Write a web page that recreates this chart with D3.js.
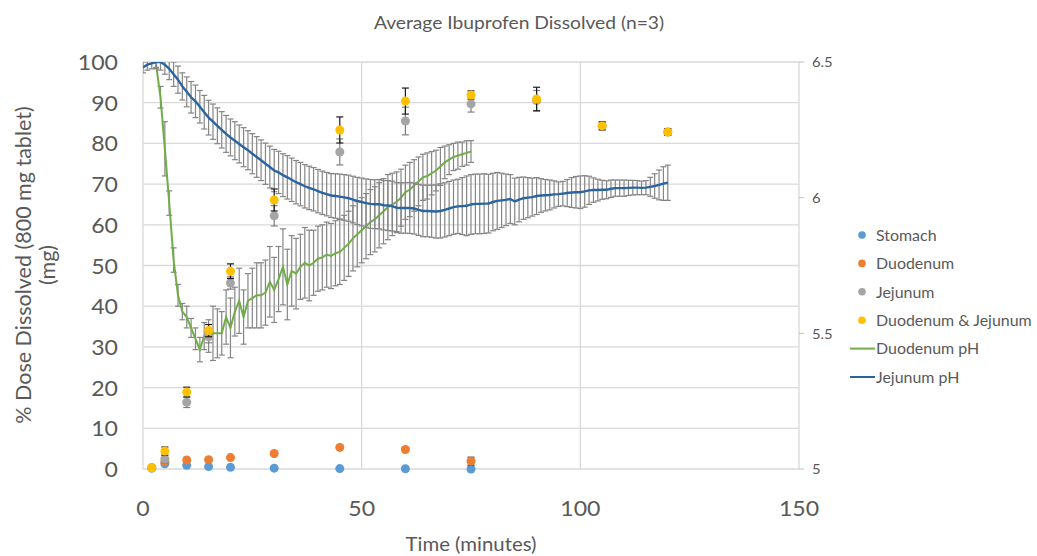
<!DOCTYPE html>
<html>

<head>
    <meta charset="UTF-8">
    <title>Average Ibuprofen Dissolved</title>
    <script src="https://cdn.jsdelivr.net/npm/d3@7/dist/d3.min.js"></script>
    <style>
        body {
            margin: 0;
            background-color: #ffffff;
        }
        svg text {
            font-family: Lato, "Open Sans", sans-serif;
            fill: #595959;
        }
    </style>
</head>

<body>
    <div id="chart"></div>
    <script>
        // sampling times (minutes) for the dissolution data
        var sampleTimes = [2, 5, 10, 15, 20, 30, 45, 60, 75, 90, 105, 120];

        // % dose dissolved, mean and sd (stomach / duodenum stop at 75 min)
        var stomach = [0.2, 1.3, 0.9, 0.6, 0.4, 0.2, 0.1, 0.05, 0.0];
        var stomachSd = [0.1, 0.2, 0.1, 0.1, 0.1, 0.1, 0.1, 0.1, 0.1];
        var duodenum = [0.3, 1.8, 2.2, 2.3, 2.8, 3.8, 5.3, 4.8, 1.9];
        var duodenumSd = [0.1, 0.3, 0.3, 0.3, 0.3, 0.3, 0.3, 0.4, 1.0];
        var jejunum = [0.3, 2.5, 16.4, 32.5, 45.7, 62.2, 77.9, 85.5, 89.7, 90.5, 84.3, 82.8];
        var jejunumSd = [0.2, 1.0, 1.3, 1.5, 1.5, 2.5, 3.2, 3.4, 2.0, 2.5, 0.8, 0.8];
        var duoJej = [0.3, 4.4, 18.9, 34.0, 48.6, 66.1, 83.3, 90.4, 91.9, 90.9, 84.3, 82.8];
        var duoJejSd = [0.2, 1.0, 1.2, 1.5, 1.8, 2.7, 3.2, 3.2, 1.0, 2.9, 1.0, 0.8];

        // duodenum pH, one reading per minute from minute 3 to 75
        var duoPhStart = 3;
        var duoPh = [6.49, 6.37, 6.18, 5.98, 5.77, 5.64, 5.58, 5.56, 5.52, 5.48,
            5.44, 5.49, 5.49, 5.50, 5.50, 5.50, 5.56, 5.52, 5.58, 5.62,
            5.56, 5.62, 5.63, 5.64, 5.64, 5.65, 5.69, 5.66, 5.70, 5.745,
            5.68, 5.73, 5.72, 5.745, 5.76, 5.75, 5.76, 5.775, 5.78, 5.79,
            5.785, 5.795, 5.80, 5.815, 5.83, 5.85, 5.865, 5.88, 5.895, 5.91,
            5.92, 5.935, 5.95, 5.965, 5.975, 5.985, 6.00, 6.02, 6.03, 6.045,
            6.06, 6.075, 6.08, 6.09, 6.10, 6.115, 6.13, 6.14, 6.15, 6.155,
            6.16, 6.165, 6.17];
        var duoPhSd = [0.01, 0.04, 0.10, 0.045, 0.045, 0.04, 0.03, 0.04, 0.035, 0.04,
            0.045, 0.05, 0.06, 0.10, 0.09, 0.08, 0.10, 0.11, 0.09, 0.12,
            0.10, 0.10, 0.11, 0.12, 0.12, 0.12, 0.13, 0.12, 0.12, 0.14,
            0.13, 0.13, 0.13, 0.12, 0.13, 0.13, 0.12, 0.12, 0.12, 0.12,
            0.12, 0.12, 0.12, 0.12, 0.12, 0.12, 0.12, 0.12, 0.12, 0.12,
            0.12, 0.12, 0.12, 0.12, 0.115, 0.11, 0.105, 0.10, 0.10, 0.095,
            0.09, 0.085, 0.085, 0.08, 0.075, 0.07, 0.06, 0.055, 0.05, 0.05,
            0.045, 0.045, 0.04];

        // jejunum pH, one reading per minute from minute 0 to 120
        var jejPhStart = 0;
        var jejPh = [6.48, 6.49, 6.495, 6.50, 6.50, 6.49, 6.475, 6.455, 6.435, 6.41,
            6.39, 6.37, 6.355, 6.335, 6.315, 6.295, 6.28, 6.265, 6.25, 6.235,
            6.222, 6.21, 6.198, 6.186, 6.175, 6.162, 6.15, 6.138, 6.125, 6.113,
            6.10, 6.093, 6.083, 6.075, 6.066, 6.057, 6.05, 6.042, 6.036, 6.031,
            6.024, 6.018, 6.013, 6.008, 6.006, 6.004, 6.001, 5.998, 5.993, 5.988,
            5.984, 5.98, 5.977, 5.976, 5.976, 5.972, 5.971, 5.969, 5.963, 5.962,
            5.962, 5.962, 5.96, 5.955, 5.951, 5.951, 5.95, 5.949, 5.951, 5.955,
            5.96, 5.965, 5.968, 5.969, 5.97, 5.975, 5.977, 5.977, 5.978, 5.978,
            5.984, 5.988, 5.99, 5.992, 5.995, 5.986, 5.993, 5.998, 6.0, 6.002,
            6.006, 6.008, 6.009, 6.01, 6.012, 6.013, 6.015, 6.017, 6.019, 6.02,
            6.02, 6.023, 6.027, 6.028, 6.028, 6.029, 6.029, 6.033, 6.035, 6.035,
            6.035, 6.036, 6.037, 6.037, 6.036, 6.037, 6.04, 6.043, 6.047, 6.052,
            6.055];
        var jejPhSd = [0.02, 0.02, 0.02, 0.025, 0.03, 0.035, 0.04, 0.045, 0.05, 0.05,
            0.055, 0.058, 0.06, 0.06, 0.062, 0.064, 0.065, 0.066, 0.067, 0.068,
            0.068, 0.07, 0.07, 0.072, 0.072, 0.074, 0.075, 0.075, 0.076, 0.077,
            0.078, 0.078, 0.079, 0.08, 0.08, 0.08, 0.08, 0.08, 0.08, 0.08,
            0.08, 0.08, 0.08, 0.081, 0.082, 0.083, 0.084, 0.085, 0.086, 0.087,
            0.088, 0.089, 0.09, 0.09, 0.091, 0.091, 0.092, 0.092, 0.092, 0.093,
            0.093, 0.094, 0.094, 0.094, 0.095, 0.095, 0.096, 0.098, 0.10, 0.10,
            0.10, 0.10, 0.10, 0.105, 0.11, 0.11, 0.11, 0.11, 0.11, 0.108,
            0.106, 0.105, 0.10, 0.095, 0.09, 0.086, 0.082, 0.078, 0.074, 0.07,
            0.068, 0.062, 0.058, 0.055, 0.05, 0.045, 0.045, 0.05, 0.055, 0.058,
            0.06, 0.058, 0.052, 0.045, 0.04, 0.035, 0.033, 0.032, 0.03, 0.03,
            0.03, 0.028, 0.027, 0.026, 0.025, 0.026, 0.035, 0.045, 0.055, 0.062,
            0.065];

        // axis ticks
        var xTicks = [0, 50, 100, 150];
        var yTicks = [0, 10, 20, 30, 40, 50, 60, 70, 80, 90, 100];
        var y2Ticks = [5, 5.5, 6, 6.5];

        (function(d3) {

            var width = 1037;
            var height = 556;
            var margin = { left: 143, right: 238, top: 62, bottom: 87 };
            var stretch = 1.1;

            var svg = d3.select('#chart')
                .append('svg')
                    .attr('width', width)
                    .attr('height', height);

            var x = d3.scaleLinear().domain([0, 150]).range([margin.left, width - margin.right]);
            var y = d3.scaleLinear().domain([0, 100]).range([height - margin.bottom, margin.top]);
            var y2 = d3.scaleLinear().domain([5, 6.5]).range([height - margin.bottom, margin.top]);

            // plot area clip, marks do not spill over the frame
            svg.append('clipPath')
                .attr('id', 'plot-clip')
                .append('rect')
                    .attr('x', x(0))
                    .attr('y', y(100))
                    .attr('width', x(150) - x(0))
                    .attr('height', y(0) - y(100));

            // text with a small horizontal stretch, like the original picture
            function addText(parent, px, py, str, size, anchor) {
                return parent.append('text')
                    .attr('transform', 'translate(' + px + ',' + py + ') scale(' + stretch + ',1)')
                    .attr('text-anchor', anchor || 'start')
                    .attr('dominant-baseline', 'central')
                    .style('font-size', size + 'px')
                    .text(str);
            }

            // grid
            var grid = svg.append('g');
            grid.selectAll('.hgrid')
                .data(yTicks)
                .enter()
                .append('line')
                .attr('x1', x(0))
                .attr('x2', x(150))
                .attr('y1', function(d) { return y(d); })
                .attr('y2', function(d) { return y(d); })
                .attr('stroke', '#d9d9d9')
                .attr('stroke-width', 1.3);
            grid.selectAll('.vgrid')
                .data(xTicks)
                .enter()
                .append('line')
                .attr('x1', function(d) { return x(d); })
                .attr('x2', function(d) { return x(d); })
                .attr('y1', y(0))
                .attr('y2', y(100))
                .attr('stroke', '#d9d9d9')
                .attr('stroke-width', 1.3);

            // right axis tick marks
            svg.selectAll('.y2tick')
                .data(y2Ticks)
                .enter()
                .append('line')
                .attr('x1', x(150))
                .attr('x2', x(150) + 5)
                .attr('y1', function(d) { return y2(d); })
                .attr('y2', function(d) { return y2(d); })
                .attr('stroke', '#bfbfbf');

            // tick labels
            yTicks.forEach(function(d) {
                addText(svg, 118, y(d), d, 21, 'end');
            });
            xTicks.forEach(function(d) {
                addText(svg, x(d), 508, d, 21, 'middle');
            });
            y2Ticks.forEach(function(d) {
                addText(svg, 812, y2(d), d, 13.5, 'start');
            });

            // titles
            addText(svg, 519, 22, 'Average Ibuprofen Dissolved (n=3)', 17.5, 'middle');
            addText(svg, 471, 544, 'Time (minutes)', 18.5, 'middle');
            var yTitle = svg.append('text')
                .attr('transform', 'translate(31,265) rotate(-90)')
                .attr('text-anchor', 'middle')
                .style('font-size', '21.5px');
            yTitle.append('tspan')
                .attr('x', 0)
                .attr('dy', 0)
                .text('% Dose Dissolved (800 mg tablet)');
            yTitle.append('tspan')
                .attr('x', 0)
                .attr('dy', 24)
                .text('(mg)');

            var plot = svg.append('g').attr('clip-path', 'url(#plot-clip)');

            function errorBars(parent, times, vals, sds, scale, color, cap) {
                var g = parent.append('g')
                    .attr('stroke', color)
                    .attr('stroke-width', 1.2);
                vals.forEach(function(v, i) {
                    var cx = x(times[i]);
                    var top = scale(v + sds[i]);
                    var bot = scale(v - sds[i]);
                    g.append('line').attr('x1', cx).attr('x2', cx).attr('y1', top).attr('y2', bot);
                    g.append('line').attr('x1', cx - cap).attr('x2', cx + cap).attr('y1', top).attr('y2', top);
                    g.append('line').attr('x1', cx - cap).attr('x2', cx + cap).attr('y1', bot).attr('y2', bot);
                });
            }

            function minutes(start, vals) {
                return vals.map(function(v, i) { return start + i; });
            }

            // pH lines with their error bars (secondary axis)
            var duoTimes = minutes(duoPhStart, duoPh);
            var jejTimes = minutes(jejPhStart, jejPh);

            var line = d3.line()
                .x(function(d) { return x(d[0]); })
                .y(function(d) { return y2(d[1]); });

            errorBars(plot, duoTimes, duoPh, duoPhSd, y2, '#858585', 3);
            plot.append('path')
                .datum(d3.zip(duoTimes, duoPh))
                .attr('d', line)
                .attr('fill', 'none')
                .attr('stroke', '#70ad47')
                .attr('stroke-width', 2);

            errorBars(plot, jejTimes, jejPh, jejPhSd, y2, '#858585', 3);
            plot.append('path')
                .datum(d3.zip(jejTimes, jejPh))
                .attr('d', line)
                .attr('fill', 'none')
                .attr('stroke', '#2b64a0')
                .attr('stroke-width', 2.4);

            // dissolution scatter series
            var series = [
                { vals: stomach, sds: stomachSd, color: '#5b9bd5', err: '#404040' },
                { vals: duodenum, sds: duodenumSd, color: '#ed7d31', err: '#404040' },
                { vals: jejunum, sds: jejunumSd, color: '#a5a5a5', err: '#7f7f7f' },
                { vals: duoJej, sds: duoJejSd, color: '#ffc000', err: '#1a1a1a' }
            ];
            series.forEach(function(s) {
                errorBars(svg, sampleTimes, s.vals, s.sds, y, s.err, 3.5);
                svg.append('g')
                    .selectAll('circle')
                    .data(s.vals)
                    .enter()
                    .append('circle')
                    .attr('cx', function(d, i) { return x(sampleTimes[i]); })
                    .attr('cy', function(d) { return y(d); })
                    .attr('r', 4.5)
                    .attr('fill', s.color);
            });

            // legend
            var legendItems = [
                { name: 'Stomach', color: '#5b9bd5', type: 'dot' },
                { name: 'Duodenum', color: '#ed7d31', type: 'dot' },
                { name: 'Jejunum', color: '#a5a5a5', type: 'dot' },
                { name: 'Duodenum & Jejunum', color: '#ffc000', type: 'dot' },
                { name: 'Duodenum pH', color: '#70ad47', type: 'line' },
                { name: 'Jejunum pH', color: '#2b64a0', type: 'line' }
            ];
            var legend = svg.selectAll('.legend')
                .data(legendItems)
                .enter()
                .append('g')
                .attr('class', 'legend')
                .attr('transform', function(d, i) {
                    return 'translate(0,' + (235 + i * 28.4) + ')';
                });
            legend.each(function(d) {
                var g = d3.select(this);
                if (d.type === 'dot') {
                    g.append('circle').attr('cx', 862).attr('cy', 0).attr('r', 3.8).attr('fill', d.color);
                } else {
                    g.append('line').attr('x1', 850).attr('x2', 875).attr('y1', 0).attr('y2', 0)
                        .attr('stroke', d.color).attr('stroke-width', 2);
                }
                addText(g, 876, 0, d.name, 14.5, 'start');
            });

        })(window.d3);
    </script>
</body>

</html>
